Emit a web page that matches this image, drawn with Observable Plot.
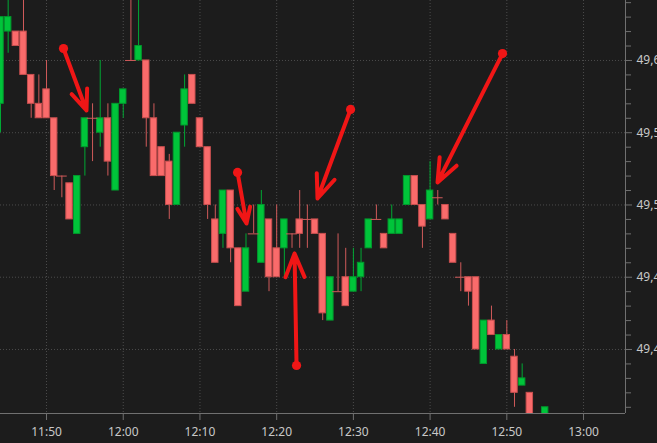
<!DOCTYPE html>
<html>
<head>
<meta charset="utf-8">
<script src="https://cdn.jsdelivr.net/npm/d3@7"></script>
<script src="https://cdn.jsdelivr.net/npm/@observablehq/plot@0.6"></script>
<style>
  html, body { margin: 0; padding: 0; background: #1c1c1c; overflow: hidden; }
  #chart svg { display: block; }
</style>
</head>
<body>
<div id="chart"></div>
<script>
// ---- Data (1-minute candles) ----
const times = ["11:44","11:45","11:46","11:47","11:48","11:49","11:50","11:51","11:52","11:53",
  "11:54","11:55","11:56","11:57","11:58","11:59","12:00","12:01","12:02","12:03",
  "12:04","12:05","12:06","12:07","12:08","12:09","12:10","12:11","12:12","12:13",
  "12:14","12:15","12:16","12:17","12:18","12:19","12:20","12:21","12:22","12:23",
  "12:24","12:25","12:26","12:27","12:28","12:29","12:30","12:31","12:32","12:33",
  "12:34","12:35","12:36","12:37","12:38","12:39","12:40","12:41","12:42","12:43",
  "12:44","12:45","12:46","12:47","12:48","12:49","12:50","12:51","12:52","12:53","12:55"];
const opens = [49.57,49.62,49.62,49.62,49.59,49.57,49.58,49.56,49.52,49.515,
  49.48,49.54,49.56,49.55,49.56,49.51,49.57,49.60,49.60,49.60,
  49.56,49.54,49.53,49.50,49.555,49.59,49.56,49.54,49.49,49.48,
  49.51,49.47,49.44,49.48,49.46,49.49,49.47,49.47,49.48,49.49,
  49.49,49.49,49.48,49.42,49.44,49.45,49.44,49.45,49.47,49.49,
  49.48,49.48,49.48,49.50,49.52,49.50,49.49,49.505,49.50,49.48,
  49.45,49.45,49.45,49.39,49.42,49.40,49.41,49.395,49.375,49.37,49.35];
const highs = [49.63,49.65,49.62,49.65,49.59,49.59,49.60,49.56,49.52,49.515,
  49.52,49.56,49.57,49.60,49.57,49.57,49.58,49.65,49.65,49.60,
  49.57,49.54,49.535,49.55,49.59,49.59,49.56,49.54,49.50,49.51,
  49.51,49.47,49.48,49.50,49.51,49.49,49.50,49.49,49.48,49.51,
  49.50,49.49,49.48,49.45,49.48,49.47,49.47,49.47,49.49,49.50,
  49.48,49.50,49.49,49.52,49.52,49.50,49.53,49.51,49.50,49.48,
  49.46,49.45,49.45,49.42,49.43,49.41,49.42,49.40,49.39,49.37,49.36];
const lows = [49.55,49.605,49.61,49.59,49.56,49.56,49.56,49.51,49.505,49.49,
  49.48,49.52,49.53,49.54,49.52,49.51,49.56,49.60,49.60,49.54,
  49.52,49.52,49.49,49.50,49.54,49.57,49.54,49.49,49.46,49.47,
  49.46,49.43,49.44,49.48,49.46,49.44,49.45,49.45,49.47,49.47,
  49.47,49.48,49.42,49.42,49.44,49.43,49.44,49.44,49.47,49.49,
  49.47,49.48,49.48,49.50,49.50,49.47,49.49,49.50,49.49,49.46,
  49.44,49.43,49.40,49.39,49.41,49.40,49.40,49.36,49.375,49.34,49.34];
const closes = [49.63,49.63,49.61,49.59,49.57,49.56,49.56,49.52,49.52,49.49,
  49.52,49.56,49.56,49.56,49.53,49.57,49.58,49.60,49.61,49.56,
  49.52,49.52,49.50,49.55,49.58,49.57,49.54,49.50,49.46,49.51,
  49.47,49.43,49.47,49.48,49.50,49.45,49.45,49.49,49.48,49.48,
  49.49,49.48,49.425,49.45,49.44,49.43,49.45,49.46,49.49,49.49,
  49.47,49.49,49.49,49.52,49.50,49.485,49.51,49.505,49.49,49.46,
  49.45,49.44,49.40,49.42,49.41,49.41,49.40,49.37,49.38,49.35,49.36];

// axis ticks
const timeTickLabels = ["11:50","12:00","12:10","12:20","12:30","12:40","12:50","13:00"];
const priceMajorTicks = [49.40, 49.45, 49.50, 49.55, 49.60];
const priceMinorTicks = [49.36,49.37,49.38,49.39,49.41,49.42,49.43,49.44,49.46,49.47,49.48,49.49,
  49.51,49.52,49.53,49.54,49.56,49.57,49.58,49.59,49.61,49.62,49.63,49.64];

// annotation arrows (start -> end, in minutes since midnight / price)
const arrowStartT = [712.21, 749.63, 734.90, 742.59, 769.44];
const arrowStartP = [49.6083, 49.5661, 49.5225, 49.3889, 49.6048];
const arrowEndT   = [715.21, 745.32, 736.07, 742.33, 760.97];
const arrowEndP   = [49.5654, 49.5045, 49.4872, 49.4664, 49.5156];

// ---- Build tables ----
const toMin = s => { const [h, m] = s.split(":").map(Number); return h * 60 + m; };
const fmtMin = m => `${Math.floor(m / 60)}:${String(m % 60).padStart(2, "0")}`;
const candles = times.map((s, i) => ({
  t: toMin(s), open: opens[i], high: highs[i], low: lows[i], close: closes[i],
  up: closes[i] > opens[i]
}));
const bodies = candles.filter(d => d.open !== d.close);
const dojis = candles.filter(d => d.open === d.close);
const arrows = arrowStartT.map((t, i) => ({x1: t, y1: arrowStartP[i], x2: arrowEndT[i], y2: arrowEndP[i]}));
const timeTicks = timeTickLabels.map(toMin);

const GREEN = "#00c43a", GREEN_EDGE = "#009a2d", GREEN_WICK = "#00a834";
const RED = "#fa6b6b", RED_EDGE = "#c84f4f", RED_WICK = "#cf5a5a";
const GRID = "#4c4c4c", AXIS = "#707070", TEXT = "#c8c8c8", ARROW = "#f01616";

const xDomain = [704, 785.47];
const yDomain = [49.3557, 49.6415];

const chart = Plot.plot({
  width: 657,
  height: 443,
  marginLeft: 0,
  marginRight: 32,
  marginTop: 0,
  marginBottom: 30,
  style: {background: "#1c1c1c", color: TEXT, fontFamily: "'Noto Sans', 'Open Sans', sans-serif", fontSize: "12px", overflow: "hidden"},
  x: {domain: xDomain, axis: null},
  y: {domain: yDomain, axis: null},
  marks: [
    // dotted grid
    Plot.ruleX(timeTicks, {x: d => d, stroke: GRID, strokeDasharray: "1,2"}),
    Plot.ruleY(priceMajorTicks, {y: d => d, stroke: GRID, strokeDasharray: "1,2"}),
    // wicks
    Plot.ruleX(candles, {x: "t", y1: "low", y2: "high", stroke: d => d.up ? GREEN_WICK : RED_WICK, strokeWidth: 1, clip: true}),
    // bodies
    Plot.rect(bodies, {
      x1: d => d.t - 0.42, x2: d => d.t + 0.42, y1: "open", y2: "close",
      fill: d => d.up ? GREEN : RED, stroke: d => d.up ? GREEN_EDGE : RED_EDGE, strokeWidth: 1, clip: true
    }),
    // doji bars
    Plot.ruleY(dojis, {y: "open", x1: d => d.t - 0.7, x2: d => d.t + 0.7, stroke: RED_WICK, strokeWidth: 1, clip: true}),
    // axes lines
    Plot.ruleX([xDomain[1]], {x: d => d, stroke: AXIS, strokeWidth: 1}),
    Plot.ruleY([yDomain[0]], {y: d => d, stroke: AXIS, strokeWidth: 1}),
    // axes
    Plot.axisX({anchor: "bottom", ticks: timeTicks, tickFormat: fmtMin, tickSize: 7, tickPadding: 7, stroke: AXIS, fill: TEXT, label: null}),
    Plot.axisY({anchor: "right", ticks: priceMajorTicks, tickFormat: d => d.toFixed(2).replace(".", ","), tickSize: 6, tickPadding: 5, stroke: AXIS, fill: TEXT, label: null}),
    Plot.axisY({anchor: "right", ticks: priceMinorTicks, tickFormat: () => "", tickSize: 5, stroke: AXIS, label: null}),
    // annotation arrows
    Plot.arrow(arrows, {x1: "x1", y1: "y1", x2: "x2", y2: "y2", stroke: ARROW, strokeWidth: 4, headLength: 9.5, headAngle: 44, strokeLinecap: "round", strokeLinejoin: "round"}),
    Plot.dot(arrows, {x: "x1", y: "y1", r: 4.6, fill: ARROW, stroke: "none"})
  ]
});
document.getElementById("chart").appendChild(chart);
</script>
</body>
</html>
